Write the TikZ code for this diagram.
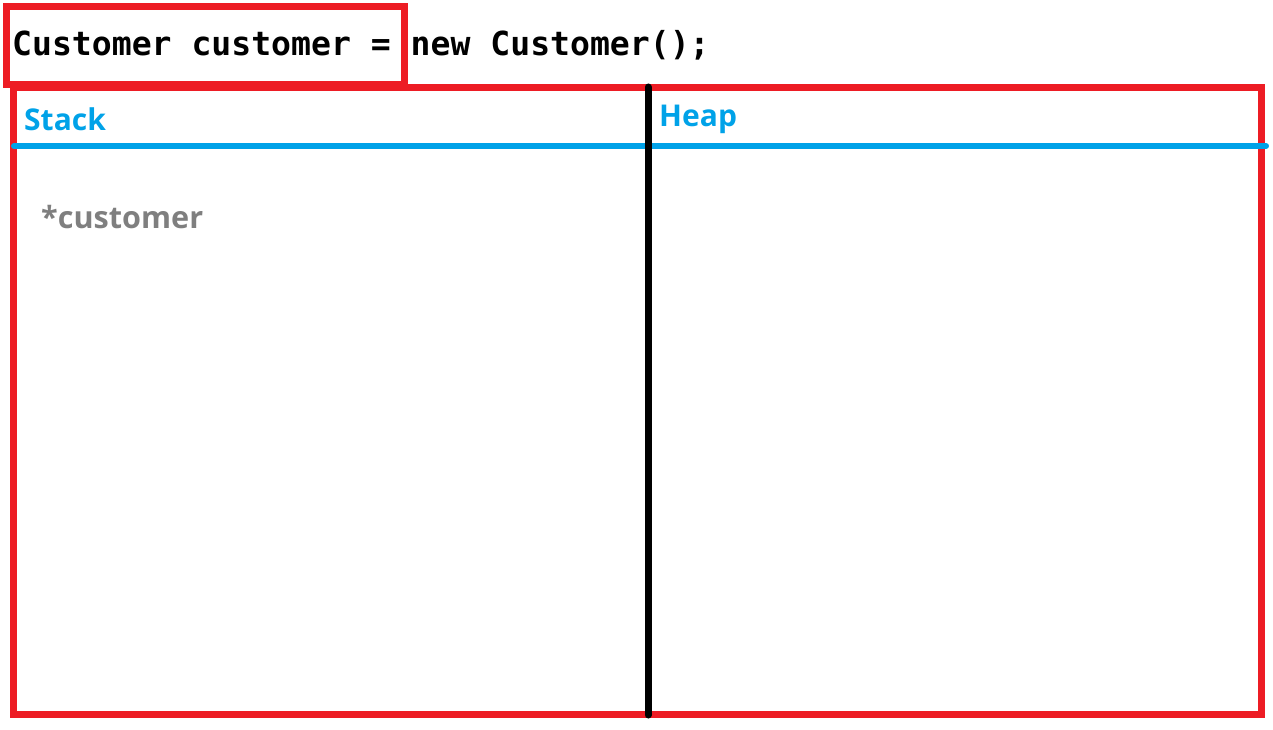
\documentclass[tikz,border=0pt]{standalone}
\usepackage{fontspec}
\newfontfamily\codefont{DejaVu Sans Mono}
\newfontfamily\labfont{Open Sans}
\definecolor{boxred}{HTML}{ED1C24}
\definecolor{lineblue}{HTML}{00A2E8}
\definecolor{txtgray}{HTML}{7F7F7F}
\begin{document}
\begin{tikzpicture}[x=1pt,y=-1pt,
  redbox/.style={draw=boxred,line width=7pt},
  blueline/.style={draw=lineblue,line width=6pt,line cap=round},
  divider/.style={draw=black,line width=7pt,line cap=round},
  codetext/.style={inner sep=0pt,anchor=base west,font=\codefont\bfseries\fontsize{33.1}{36}\selectfont},
  headtext/.style={inner sep=0pt,anchor=base west,text=lineblue,font=\labfont\bfseries\fontsize{30}{33}\selectfont},
  vartext/.style={inner sep=0pt,anchor=base west,text=txtgray,font=\labfont\bfseries\fontsize{30.6}{33}\selectfont}]
\useasboundingbox (0,0) rectangle (1273,730);
% code line
\node[codetext] (code) at (12,56) {Customer customer = new Customer();};
% small box around declaration
\coordinate (sbA) at (6.5,6.5);
\coordinate (sbB) at (404,85);
\draw[redbox] (sbA) rectangle (sbB);
% big box
\coordinate (bbA) at (13.5,87.5);
\coordinate (bbB) at (1261,714);
\draw[redbox] (bbA) rectangle (bbB);
% header line
\coordinate (blA) at (14,146);
\coordinate (blB) at (1266,146);
\draw[blueline] (blA) -- (blB);
% divider
\coordinate (dvA) at (648,87);
\coordinate (dvB) at (648,715);
\draw[divider] (dvA) -- (dvB);
% labels
\node[headtext] (stack) at (24,131) {Stack};
\node[headtext] (heap) at (659,127) {Heap};
\node[vartext] (var) at (41,228) {*customer};
\end{tikzpicture}
\end{document}
